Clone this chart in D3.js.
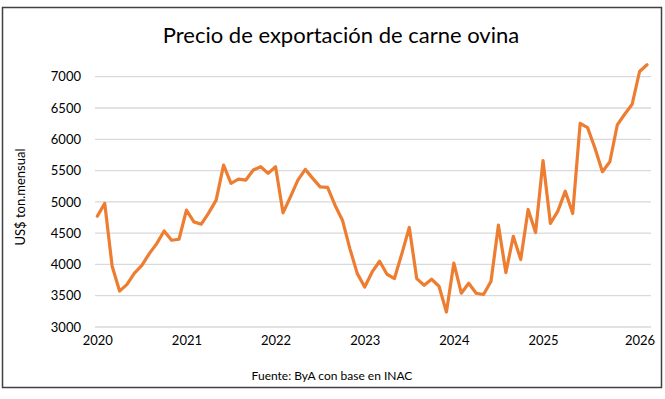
<!DOCTYPE html>
<html><head><meta charset="utf-8">
<script src="https://cdn.jsdelivr.net/npm/d3@7"></script>
<style>body{margin:0;background:#fff}svg{display:block}text{font-family:Lato,"Open Sans",sans-serif;fill:#000}</style>
</head><body><svg id="c" width="665" height="399"></svg>
<script>
const title = "Precio de exportación de carne ovina";
const yAxisTitle = "US$ ton.mensual";
const source = "Fuente: ByA con base en INAC";
const years = ["2020","2021","2022","2023","2024","2025","2026"];
const yearTickIndex = [0,12,24,36,48,60,73];
const yTicks = [3000,3500,4000,4500,5000,5500,6000,6500,7000];
const prices2020 = [4771,4975,3970,3574,3681,3862,3986,4173,4333,4535,4386,4402];
const prices2021 = [4867,4680,4643,4824,5027,5588,5295,5364,5348,5508,5561,5455];
const prices2022 = [5561,4824,5080,5348,5519,5375,5240,5231,4947,4707,4253,3853];
const prices2023 = [3638,3880,4051,3843,3774,4173,4590,3774,3667,3763,3651,3240];
const prices2024 = [4021,3540,3700,3540,3519,3732,4627,3869,4450,4077,4878,4510];
const prices2025 = [5660,4654,4851,5171,4814,6255,6186,5856,5481,5641,6229,6400];
const prices2026 = [6560,7083,7190];
const values = [].concat(prices2020,prices2021,prices2022,prices2023,prices2024,prices2025,prices2026);

const svg = d3.select("#c");
svg.append("rect").attr("x",2.5).attr("y",7.5).attr("width",659).attr("height",380)
  .attr("fill","#fff").attr("stroke","#404040").attr("stroke-width",1.5);

const x = d3.scaleLinear().domain([0, values.length-1]).range([97.3, 647]);
const y = d3.scaleLinear().domain([3000,7000]).range([327, 76.7]);
const plotL = 95, plotR = 651;

const g = svg.append("g");
g.selectAll("line.grid").data(yTicks).join("line").attr("class","grid")
  .attr("x1",plotL).attr("x2",plotR).attr("y1",d=>y(d)).attr("y2",d=>y(d))
  .attr("stroke","#d9d9d9").attr("stroke-width",1.3);

const yAxis = d3.axisLeft(y).tickValues(yTicks).tickSize(0).tickPadding(0).tickFormat(d3.format("d"));
svg.append("g").attr("transform","translate(81,0)").call(yAxis)
  .call(s=>s.select(".domain").remove())
  .call(s=>s.selectAll("text").attr("font-size",13).attr("font-family","Lato").attr("fill","#000"));

const xAxis = d3.axisBottom(x).tickValues(yearTickIndex).tickSize(0).tickPadding(0)
  .tickFormat((d,i)=>years[i]);
svg.append("g").attr("transform","translate(0,336)").call(xAxis)
  .call(s=>s.select(".domain").remove())
  .call(s=>s.selectAll("text").attr("font-size",13).attr("font-family","Lato").attr("fill","#000"));

const line = d3.line().x((d,i)=>x(i)).y(d=>y(d));
svg.append("path").datum(values).attr("d",line).attr("fill","none")
  .attr("stroke","#ED7D31").attr("stroke-width",3.2).attr("stroke-linejoin","round").attr("stroke-linecap","round");

svg.append("text").attr("x",341).attr("y",43).attr("text-anchor","middle")
  .attr("font-size",22).text(title);
svg.append("text").attr("transform","translate(25,197) rotate(-90)").attr("text-anchor","middle")
  .attr("font-size",13).text(yAxisTitle);
svg.append("text").attr("x",332).attr("y",380).attr("text-anchor","middle")
  .attr("font-size",12).text(source);
</script></body></html>
